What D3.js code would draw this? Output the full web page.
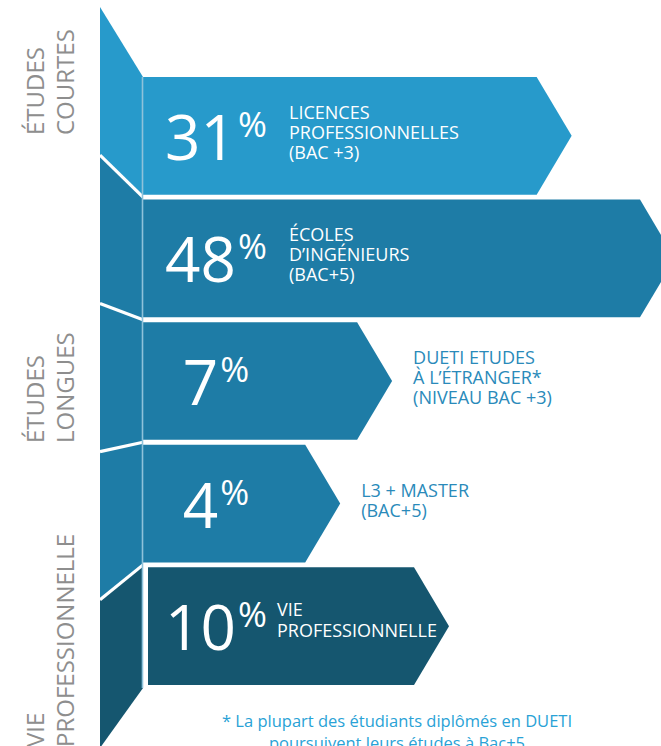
<!DOCTYPE html>
<html>
<head>
<meta charset="utf-8">
<script src="https://cdn.jsdelivr.net/npm/d3@7"></script>
<style>
  html, body { margin: 0; padding: 0; background: #ffffff; }
  svg { display: block; font-family: "Open Sans", "Noto Sans", sans-serif; }
</style>
</head>
<body>
<svg id="chart" width="661" height="746"></svg>
<script>
// ---- data ----
const categories = ["licences", "ingenieurs", "etranger", "master", "vie"];
const percents = [31, 48, 7, 4, 10];
const labelLines = [
  ["LICENCES", "PROFESSIONNELLES", "(BAC +3)"],
  ["ÉCOLES", "D’INGÉNIEURS", "(BAC+5)"],
  ["DUETI ETUDES", "À L’ÉTRANGER*", "(NIVEAU BAC +3)"],
  ["L3 + MASTER", "(BAC+5)"],
  ["VIE", "PROFESSIONNELLE"]
];
const labelPlacement = ["inside", "inside", "outside", "outside", "tight"];
const tiers = ["courtes", "longues", "longues", "longues", "pro"];
const groupLabels = [["ÉTUDES", "COURTES"], ["ÉTUDES", "LONGUES"], ["VIE", "PROFESSIONNELLE"]];
const footnote = ["* La plupart des étudiants diplômés en DUETI", "poursuivent leurs études à Bac+5"];

// ---- styles ----
const tierColor = { courtes: "#279acb", longues: "#1e7ca6", pro: "#15566f" };
const svg = d3.select("#chart");

const W = 661;
const panelX0 = 100, panelX1 = 143;

const y = d3.scaleBand().domain(categories).range([77, 685]).paddingInner(0.04);
const bw = y.bandwidth();
const len = d3.scaleLinear().domain([0, 10, 48]).range([93, 266, 497]);
const tip = 35;

// ---- left folded panels ----
const leftY = d3.scaleLinear().domain([0, categories.length]).range([7, 748]);
const rightY = d3.range(categories.length + 1).map(i => {
  if (i === 0) return y(categories[0]);
  if (i === categories.length) return y(categories[i - 1]) + bw + 3;
  return (y(categories[i - 1]) + bw + y(categories[i])) / 2;
});

const panels = svg.append("g");
categories.forEach((c, i) => {
  const pts = [
    [panelX0, leftY(i)], [panelX1, rightY[i]],
    [panelX1, rightY[i + 1]], [panelX0, leftY(i + 1)]
  ];
  panels.append("path")
    .attr("d", d3.line()(pts) + "Z")
    .attr("fill", tierColor[tiers[i]]);
});
// white fold separators
d3.range(1, categories.length).forEach(i => {
  panels.append("line")
    .attr("x1", panelX0).attr("y1", leftY(i))
    .attr("x2", panelX1).attr("y2", rightY[i])
    .attr("stroke", "#ffffff").attr("stroke-width", 3.2);
});

// ---- bars ----
const bars = svg.append("g");
categories.forEach((c, i) => {
  const x0 = tiers[i] === "pro" ? panelX1 + 5 : panelX1;
  const x1 = x0 + len(percents[i]);
  const t = y(c), b = t + bw, m = t + bw / 2;
  bars.append("path")
    .attr("d", d3.line()([[x0, t], [x1, t], [x1 + tip, m], [x1, b], [x0, b]]) + "Z")
    .attr("fill", tierColor[tiers[i]]);
});

// thin light vertical line
svg.append("line")
  .attr("x1", panelX1 - 0.5).attr("x2", panelX1 - 0.5)
  .attr("y1", rightY[0]).attr("y2", rightY[categories.length])
  .attr("stroke", "#8fc2da").attr("stroke-width", 1.6);

// ---- percent numbers ----
const nums = svg.append("g");
categories.forEach((c, i) => {
  const m = y(c) + bw / 2;
  const t = nums.append("text")
    .attr("x", 216).attr("y", m + 24)
    .attr("text-anchor", "middle")
    .attr("fill", "#ffffff")
    .attr("font-size", 62)
    .attr("font-weight", 400);
  t.append("tspan").text(percents[i]);
  t.append("tspan").attr("font-size", 35).attr("dx", 2).attr("dy", -23).text("%");
});

// ---- category labels ----
const labs = svg.append("g");
categories.forEach((c, i) => {
  const m = y(c) + bw / 2;
  const x0 = tiers[i] === "pro" ? panelX1 + 5 : panelX1;
  const x1 = x0 + len(percents[i]);
  let lx, col;
  if (labelPlacement[i] === "outside") { lx = x1 + tip + 21; col = "#2a8aba"; }
  else if (labelPlacement[i] === "tight") { lx = 277; col = "#ffffff"; }
  else { lx = 289; col = "#ffffff"; }
  const n = labelLines[i].length;
  const base = labelPlacement[i] === "tight" ? m - 10.5 : m + 3 - (n - 1) / 2 * 20;
  const step = labelPlacement[i] === "tight" ? 21 : 20;
  const t = labs.append("text").attr("fill", col).attr("font-size", 18);
  labelLines[i].forEach((ln, k) => {
    t.append("tspan").attr("x", lx).attr("y", base + k * step).text(ln);
  });
});

// ---- rotated group labels ----
const groupEnds = [135, 443, 747];
const g = svg.append("g").attr("fill", "#8e8e8e").attr("font-size", 24);
groupLabels.forEach((lines, gi) => {
  lines.forEach((ln, k) => {
    g.append("text")
      .attr("transform", `translate(${44 + k * 30},${groupEnds[gi]}) rotate(-90)`)
      .attr("text-anchor", "start")
      .text(ln);
  });
});

// ---- footnote ----
const fn = svg.append("text").attr("fill", "#29a2d6").attr("font-size", 16.5).attr("text-anchor", "middle");
footnote.forEach((ln, k) => {
  fn.append("tspan").attr("x", 397).attr("y", 727 + k * 22).text(ln);
});
</script>
</body>
</html>
